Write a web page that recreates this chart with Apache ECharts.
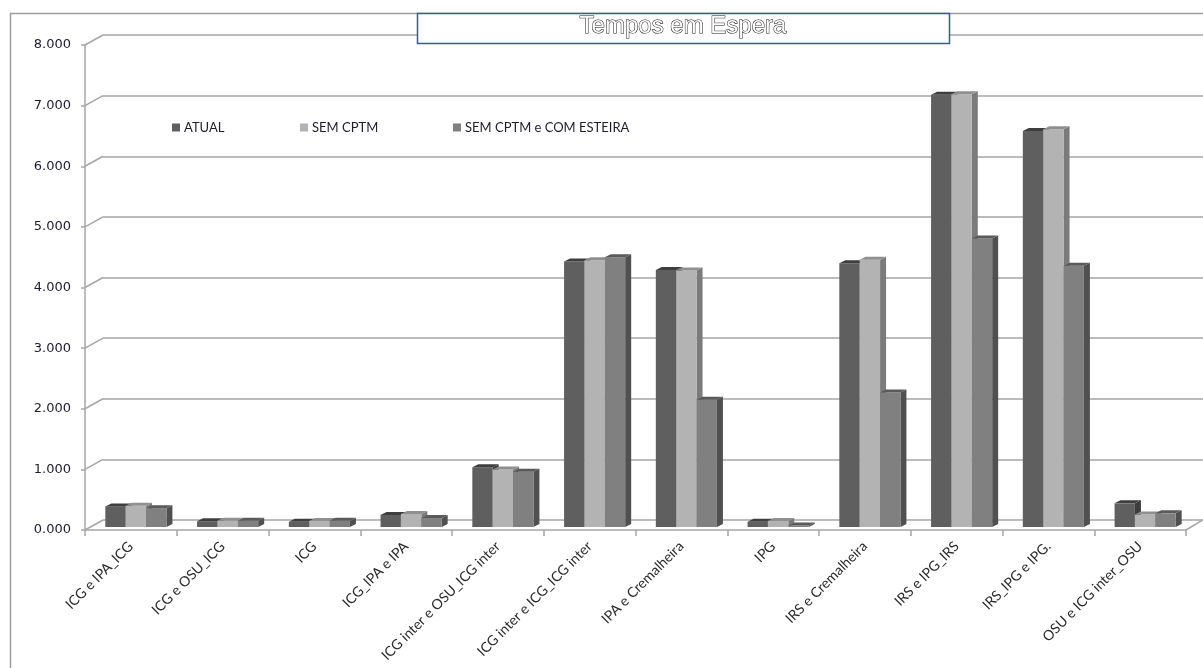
<!DOCTYPE html>
<html>
<head>
<meta charset="utf-8">
<script src="https://cdn.jsdelivr.net/npm/echarts@6/dist/echarts.min.js"></script>
<style>
  html, body { margin: 0; padding: 0; background: #fff; }
  #chart { width: 1203px; height: 668px; }
</style>
</head>
<body>
<div id="chart"></div>
<script>
var categories = ['ICG e IPA_ICG', 'ICG e OSU_ICG', 'ICG', 'ICG_IPA e IPA', 'ICG inter e OSU_ICG inter',
    'ICG inter e ICG_ICG inter', 'IPA e Cremalheira', 'IPG', 'IRS e Cremalheira', 'IRS e IPG_IRS',
    'IRS_IPG e IPG.', 'OSU e ICG inter_OSU'];
var seriesNames = ['ATUAL', 'SEM CPTM', 'SEM CPTM e COM ESTEIRA'];
var atual = [340, 95, 85, 200, 985, 4380, 4240, 85, 4350, 7130, 6530, 390];
var semCptm = [350, 105, 100, 215, 950, 4400, 4230, 100, 4410, 7140, 6560, 205];
var semCptmEsteira = [310, 105, 105, 150, 910, 4450, 2100, 25, 2220, 4760, 4310, 225];
var yTicks = [0, 1000, 2000, 3000, 4000, 5000, 6000, 7000, 8000];

// face colours: front, top, side
var faces = [
    ['#5f5f5f', '#3e3e3e', '#3c3c3c'],
    ['#b3b3b3', '#8f8f8f', '#7b7b7b'],
    ['#808080', '#5a5a5a', '#505050']
];

var chart = echarts.init(document.getElementById('chart'));

function barRenderer(idx) {
    return function (params, api) {
        var band = api.size([1, 0])[0];
        var w = band * 0.222;
        var c = api.coord([api.value(0), api.value(1)]);
        var base = api.coord([api.value(0), 0]);
        var sx = 5, sy = -3, dx = 6, dy = -3;
        var x0 = c[0] - 1.5 * w + idx * w + sx;
        var x1 = x0 + w;
        var yt = c[1] + sy;
        var yb = base[1] + sy;
        var col = faces[idx];
        return {
            type: 'group',
            children: [
                { type: 'polygon', shape: { points: [[x1, yt], [x1 + dx, yt + dy], [x1 + dx, yb + dy], [x1, yb]] }, style: { fill: col[2] } },
                { type: 'rect', shape: { x: x0, y: yt, width: w, height: yb - yt }, style: { fill: col[0] } },
                { type: 'polygon', shape: { points: [[x0, yt], [x0 + dx, yt + dy], [x1 + dx, yt + dy], [x1, yt]] }, style: { fill: col[1] } }
            ]
        };
    };
}

var valueLists = [atual, semCptm, semCptmEsteira];
var barSeries = valueLists.map(function (vals, i) {
    return {
        name: seriesNames[i],
        type: 'custom',
        xAxisIndex: 0,
        yAxisIndex: 0,
        itemStyle: { color: faces[i][0] },
        renderItem: barRenderer(i),
        data: vals.map(function (v, k) { return [k, v]; }),
        z: 5
    };
});

var connectorSeries = {
    type: 'custom',
    xAxisIndex: 0,
    yAxisIndex: 0,
    silent: true,
    z: 1,
    renderItem: function (params, api) {
        var cs = params.coordSys;
        var y = api.coord([0, api.value(1)])[1];
        var lineStyle = { stroke: '#a6a6a6', lineWidth: 1.5 };
        var kids = [{ type: 'line', shape: { x1: cs.x, y1: y, x2: cs.x + 18, y2: y - 10 }, style: lineStyle }];
        if (api.value(1) === 0) {
            kids.push({ type: 'line', shape: { x1: cs.x + cs.width, y1: y, x2: cs.x + cs.width + 17, y2: y - 10 }, style: lineStyle });
        }
        return { type: 'group', children: kids };
    },
    data: yTicks.map(function (v) { return [0, v]; })
};

function legendAt(name, left) {
    return {
        data: [name],
        left: left,
        top: 121,
        icon: 'rect',
        itemWidth: 8,
        itemHeight: 8,
        itemGap: 4,
        padding: 0,
        textStyle: { fontFamily: 'Lato', fontSize: 13, color: '#1e1e2a', padding: [0, 0, 0, -1] }
    };
}

var option = {
    animation: false,
    backgroundColor: '#fff',
    title: {
        text: 'Tempos em Espera',
        left: 683,
        top: 14,
        textAlign: 'center',
        padding: 0,
        z: 10,
        textStyle: {
            fontFamily: 'Liberation Sans',
            fontSize: 24,
            fontWeight: 'normal',
            color: '#fff',
            textBorderColor: '#111',
            textBorderWidth: 1
        }
    },
    graphic: [
        { type: 'rect', z: -10, silent: true, shape: { x: 10.5, y: 13.5, width: 1300, height: 700 }, style: { fill: 'none', stroke: '#9c9c9c', lineWidth: 1.5 } },
        { type: 'rect', z: 8, silent: true, shape: { x: 417.5, y: 13.5, width: 532, height: 30 }, style: { fill: '#fff', stroke: '#3a5a94', lineWidth: 1.5 } }
    ],
    legend: [legendAt(seriesNames[0], 172), legendAt(seriesNames[1], 300), legendAt(seriesNames[2], 453)],
    grid: [
        { left: 85, right: 17, top: 45, bottom: 138, outerBoundsMode: 'none' },
        { left: 103, right: -5, top: 35, bottom: 148, outerBoundsMode: 'none' }
    ],
    xAxis: [
        {
            type: 'category',
            gridIndex: 0,
            data: categories,
            axisLine: { lineStyle: { color: '#a6a6a6', width: 1.5 } },
            axisTick: { show: true, length: 6, lineStyle: { color: '#a6a6a6', width: 1.5 } },
            axisLabel: {
                interval: 0,
                rotate: 45,
                margin: 14,
                fontFamily: 'Lato',
                fontSize: 14,
                color: '#2a2a2a'
            }
        },
        {
            type: 'category',
            gridIndex: 1,
            data: categories,
            axisLine: { show: false },
            axisTick: { show: false },
            axisLabel: { show: false }
        }
    ],
    yAxis: [
        {
            type: 'value',
            gridIndex: 0,
            min: 0,
            max: 8000,
            interval: 1000,
            splitLine: { show: false },
            axisLine: { show: true, lineStyle: { color: '#a6a6a6', width: 1.5 } },
            axisTick: { show: true, length: 4, lineStyle: { color: '#a6a6a6', width: 1.5 } },
            axisLabel: {
                margin: 14,
                fontFamily: 'DejaVu Sans',
                fontSize: 13,
                color: '#1c1c2c',
                formatter: function (v) { return (v / 1000).toFixed(3); }
            }
        },
        {
            type: 'value',
            gridIndex: 1,
            min: 0,
            max: 8000,
            interval: 1000,
            axisLine: { show: false },
            axisTick: { show: false },
            axisLabel: { show: false },
            splitLine: { show: true, lineStyle: { color: '#a6a6a6', width: 1.5 } }
        }
    ],
    series: barSeries.concat([connectorSeries])
};

chart.setOption(option);
</script>
</body>
</html>
